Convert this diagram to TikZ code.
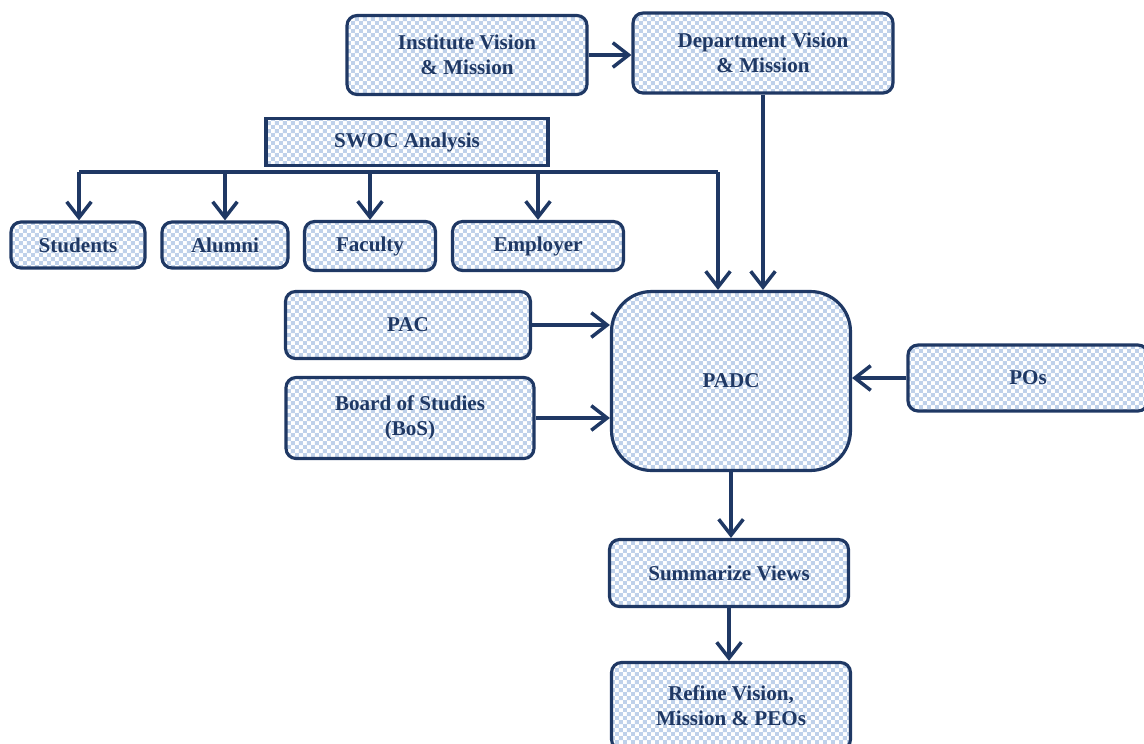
\documentclass[tikz,border=0pt]{standalone}
\usepackage{fontspec}
\setmainfont{Liberation Serif}
\usetikzlibrary{patterns,arrows.meta}

\definecolor{navy}{HTML}{1F3864}
\definecolor{checkblue}{HTML}{BFD1EA}

\tikzset{
  box/.style={draw=navy, line width=1.8pt, rounded corners=0.2cm,
    pattern=box checker, pattern color=checkblue, text=navy,
    align=center, inner sep=2pt,
    font=\fontsize{12}{14.3}\selectfont\bfseries},
  arr/.style={draw=navy, line width=2pt,
    -{Straight Barb[length=9pt,width=14pt]}},
  bus/.style={draw=navy, line width=2pt}
}

\begin{document}
\begin{tikzpicture}[x=0.02cm, y=-0.02cm]
  \pgfdeclarepatternformonly{box checker}
    {\pgfpointorigin}
    {\pgfqpoint{1.6mm}{1.6mm}}
    {\pgfqpoint{1.6mm}{1.6mm}}
    {
      \pgfpathrectangle{\pgfpointorigin}{\pgfqpoint{0.8mm}{0.8mm}}
      \pgfpathrectangle{\pgfqpoint{0.8mm}{0.8mm}}{\pgfqpoint{0.8mm}{0.8mm}}
      \pgfusepath{fill}
    }
  \useasboundingbox (0,0) rectangle (1144,744);

  % top row
  \node[box, minimum width=4.8cm, minimum height=1.58cm] (inst) at (467,55) {Institute Vision\\\& Mission};
  \node[box, minimum width=5.2cm, minimum height=1.6cm] (dept) at (763,53) {Department Vision\\\& Mission};
  \node[box, rounded corners=0pt, minimum width=5.64cm, minimum height=0.94cm] (swoc) at (407,142) {SWOC Analysis};

  % stakeholders
  \node[box, minimum width=2.68cm, minimum height=0.92cm] (stud) at (78,245) {Students};
  \node[box, minimum width=2.52cm, minimum height=0.92cm] (alum) at (225,245) {Alumni};
  \node[box, minimum width=2.62cm, minimum height=0.98cm] (fac) at (370,246) {Faculty};
  \node[box, minimum width=3.42cm, minimum height=0.98cm] (emp) at (538,246) {Employer};

  % committees
  \node[box, minimum width=4.9cm, minimum height=1.34cm] (pac) at (408,325) {PAC};
  \node[box, minimum width=4.96cm, minimum height=1.62cm] (bos) at (410,418) {Board of Studies\\(BoS)};
  \node[box, rounded corners=0.8cm, minimum width=4.78cm, minimum height=3.58cm] (padc) at (731,381) {PADC};
  \node[box, minimum width=4.8cm, minimum height=1.32cm] (pos) at (1028,378) {POs};

  % outcome
  \node[box, minimum width=4.78cm, minimum height=1.34cm] (summ) at (729,573) {Summarize Views};
  \node[box, minimum width=4.78cm, minimum height=1.74cm] (refine) at (731,706) {Refine Vision,\\Mission \& PEOs};

  % SWOC bus
  \coordinate (busL) at (79,172);
  \coordinate (busR) at (718,172);
  \draw[bus] (busL) -- (busR);
  \draw[arr] (busL) -- (busL |- stud.north);
  \draw[arr] (alum.north |- busL) -- (alum.north);
  \draw[arr] (fac.north |- busL) -- (fac.north);
  \draw[arr] (emp.north |- busL) -- (emp.north);
  \draw[arr] (busR) -- (busR |- padc.north);

  % links
  \draw[arr] (inst.east) -- (inst.east -| dept.west);
  \draw[arr] (dept.south) -- (dept.south |- padc.north);
  \draw[arr] (pac.east) -- (pac.east -| padc.west);
  \draw[arr] (bos.east) -- (bos.east -| padc.west);
  \draw[arr] (pos.west) -- (pos.west -| padc.east);
  \draw[arr] (padc.south) -- (padc.south |- summ.north);
  \draw[arr] (summ.south) -- (summ.south |- refine.north);
\end{tikzpicture}
\end{document}
